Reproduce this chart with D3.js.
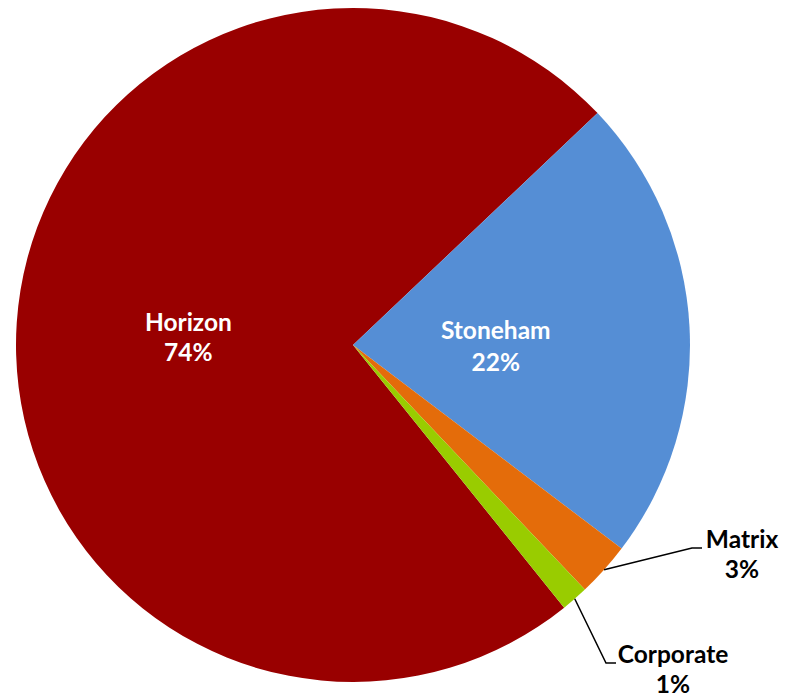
<!DOCTYPE html>
<html>
<head>
<meta charset="utf-8">
<script src="https://cdn.jsdelivr.net/npm/d3@7"></script>
<style>
  html, body { margin: 0; padding: 0; background: #ffffff; }
  svg { display: block; }
  text { font-family: Lato, "Open Sans", sans-serif; font-weight: 700; font-size: 24.5px; }
</style>
</head>
<body>
<svg id="chart" width="794" height="700"></svg>
<script>
// Share of total by business unit
const categories = ["Horizon", "Stoneham", "Matrix", "Corporate"];
const values = [73.7, 22.4, 2.6, 1.3];
const colors = ["#990000", "#558ED5", "#E46C0A", "#99CC00"];

const width = 794, height = 700;
const cx = 353, cy = 345, radius = 337;
const startDeg = 141.2;

const svg = d3.select("#chart");
const g = svg.append("g").attr("transform", `translate(${cx},${cy})`);

const total = d3.sum(values);
const fmt = d3.format(".0%");
const data = categories.map((c, i) => ({ name: c, value: values[i], color: colors[i] }));

const pie = d3.pie()
  .value(d => d.value)
  .sort(null)
  .startAngle(startDeg * Math.PI / 180)
  .endAngle(startDeg * Math.PI / 180 + 2 * Math.PI);

const arcs = pie(data);
const arc = d3.arc().innerRadius(0).outerRadius(radius);

g.selectAll("path.slice")
  .data(arcs)
  .join("path")
  .attr("class", "slice")
  .attr("d", arc)
  .attr("fill", d => d.data.color);

// Point at a given radius along a slice's mid-angle
function along(d, r) {
  const a = (d.startAngle + d.endAngle) / 2;
  return [r * Math.sin(a), -r * Math.cos(a)];
}

// Inside labels (large slices), white: radius along mid-angle, baseline shift, line gap
const inside = {
  Horizon:  { r: 165, dy: -3, gap: 30 },
  Stoneham: { r: 143, dy: 2, gap: 32 }
};
// Outside labels (small slices): leader elbow and label anchor, relative to centre
const outside = {
  Matrix:    { elbow: [339, 203], end: [349, 203], label: [389, 203] },
  Corporate: { elbow: [253, 318], end: [263, 318], label: [320, 318] }
};

arcs.forEach(d => {
  const name = d.data.name;
  const pct = fmt(d.data.value / total);
  if (inside[name] !== undefined) {
    const o = inside[name];
    const [x, y] = along(d, o.r);
    const t = g.append("text")
      .attr("text-anchor", "middle")
      .attr("fill", "#ffffff")
      .attr("transform", `translate(${x},${y})`);
    t.append("tspan").attr("x", 0).attr("y", o.dy).text(name);
    t.append("tspan").attr("x", 0).attr("y", o.dy + o.gap).text(pct);
  } else {
    const o = outside[name];
    const p0 = along(d, radius);
    g.append("polyline")
      .attr("points", [p0, o.elbow, o.end].map(p => p.join(",")).join(" "))
      .attr("fill", "none")
      .attr("stroke", "#000000")
      .attr("stroke-width", 1.5);
    const t = g.append("text")
      .attr("text-anchor", "middle")
      .attr("fill", "#000000")
      .attr("transform", `translate(${o.label[0]},${o.label[1]})`);
    t.append("tspan").attr("x", 0).attr("y", 0).text(name);
    t.append("tspan").attr("x", 0).attr("y", 30).text(pct);
  }
});
</script>
</body>
</html>
